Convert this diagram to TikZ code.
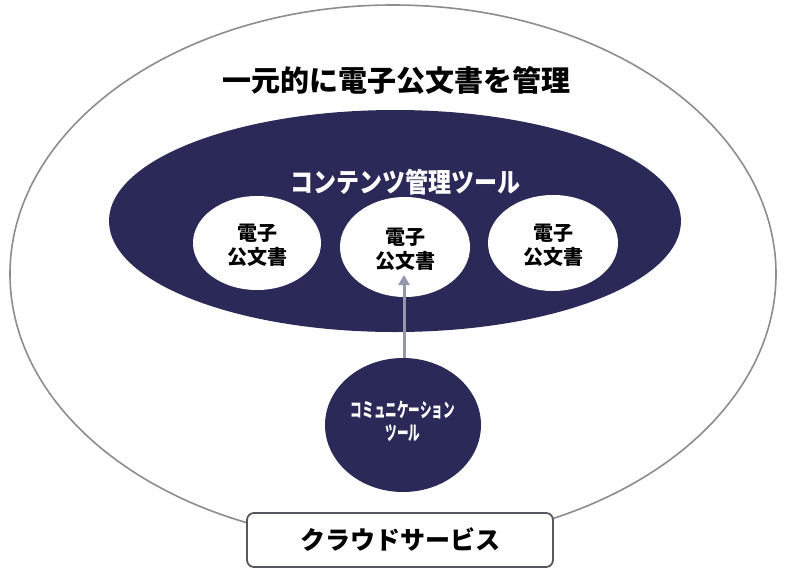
\documentclass[tikz,border=0pt]{standalone}
\usepackage{fontspec}
\setmainfont{Noto Sans CJK JP}
\usetikzlibrary{arrows.meta}
\definecolor{navy}{RGB}{42,41,88}
\definecolor{rimgray}{RGB}{140,140,145}
\definecolor{arrowgray}{RGB}{150,150,170}
\definecolor{boxgray}{RGB}{85,88,95}
\tikzset{
  docell/.style={ellipse, fill=white, inner sep=0pt},
  doctext/.style={font=\fontsize{20}{24}\selectfont\bfseries, align=center, text=black},
}
\usetikzlibrary{shapes.geometric}
\begin{document}
\begin{tikzpicture}[x=1pt,y=-1pt]
\useasboundingbox (0,0) rectangle (787,568);
\fill[white] (0,0) rectangle (787,568);
% outer ellipse
\draw[rimgray, line width=1.6pt] (393,274) ellipse [x radius=383, y radius=269];
\node (title) at (396,80) {\fontsize{29}{32}\selectfont\bfseries 一元的に電子公文書を管理};
% content management ellipse
\fill[navy] (395,221) ellipse [x radius=286, y radius=111];
\node[text=white] (cm) at (405,182) {\fontsize{25}{28}\selectfont\bfseries \scalebox{0.92}[1.08]{コンテンツ管理ツール}};
% document ellipses
\fill[white] (257,243) ellipse [x radius=64, y radius=47];
\fill[white] (405,247) ellipse [x radius=65, y radius=50];
\fill[white] (553,243) ellipse [x radius=65, y radius=48];
\node[doctext] (d1) at (257,245) {電子\\公文書};
\node[doctext] (d2) at (405,249) {電子\\公文書};
\node[doctext] (d3) at (553,245) {電子\\公文書};
\coordinate (tip) at (404,275);
% communication tool circle
\fill[navy] (403,425) ellipse [x radius=78, y radius=67];
\node[text=white, align=center, font=\fontsize{20}{23}\selectfont\bfseries] (comm) at (403,421)
  {\scalebox{0.58}[1]{コミュニケーション}\\\scalebox{0.58}[1]{ツール}};
\coordinate (ctop) at (404,358);
\draw[arrowgray, line width=3pt, -{Triangle[length=10pt,width=11pt]}] (ctop) -- (tip);
% cloud box
\node[draw=boxgray, line width=1.8pt, rounded corners=7pt, fill=white,
      minimum width=306pt, minimum height=54pt, inner sep=0pt,
      font=\fontsize{25}{28}\selectfont\bfseries] (cloud) at (400,540) {クラウドサービス};
\end{tikzpicture}
\end{document}
